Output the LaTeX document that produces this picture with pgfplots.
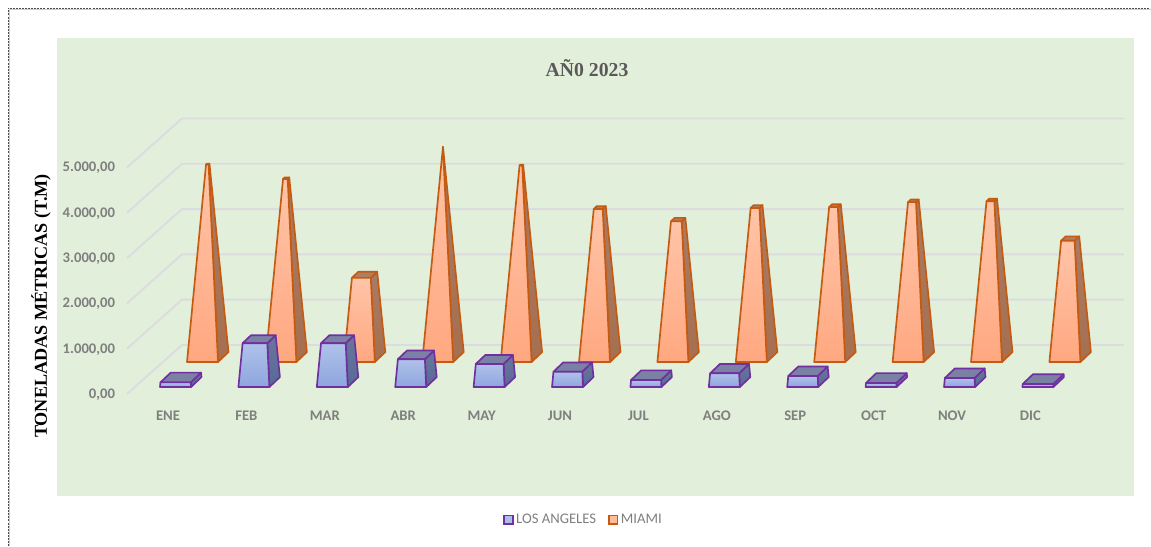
\documentclass[border=0pt]{standalone}
\usepackage{pgfplots}
\usepackage{pgfplotstable}
\usepackage{fontspec}
\pgfplotsset{compat=1.18}
\setmainfont{Carlito}
\newfontfamily\timesfont{Liberation Serif}
\definecolor{bggreen}{HTML}{E2EFDA}
\definecolor{gridc}{HTML}{DCDCE0}
\definecolor{lblc}{HTML}{7F7F7F}
\definecolor{miaLine}{HTML}{C55A11}
\definecolor{laLine}{HTML}{7030A0}
\pgfplotstableread{
mes LA MIA
ENE 100 4257
FEB 945 3948
MAR 945 1815
ABR 600 4640
MAY 497 4236
JUN 331 3300
JUL 152 3033
AGO 296 3322
SEP 238 3340
OCT 88 3448
NOV 195 3466
DIC 65 2615
}\datos
\definecolor{miaTop}{HTML}{FFC4A8}
\definecolor{miaBot}{HTML}{FFA880}
\definecolor{miaSideT}{HTML}{A87C66}
\definecolor{miaSideB}{HTML}{A66F50}
\definecolor{miaTopF}{HTML}{B07F62}
\definecolor{laTop}{HTML}{B0C2EA}
\definecolor{laBot}{HTML}{8EA5DE}
\definecolor{laSideT}{HTML}{6A7699}
\definecolor{laSideB}{HTML}{566A98}
\definecolor{laTopF}{HTML}{7A81A5}
\pgfplotsset{
 mia common/.style={draw=miaLine,line width=1.25pt,line join=round,mark=none,forget plot},
 la common/.style={draw=laLine,line width=1.25pt,line join=round,mark=none,forget plot},
 mia front/.style={mia common,top color=miaTop,bottom color=miaBot},
 mia side/.style={mia common,top color=miaSideT,bottom color=miaSideB},
 mia top/.style={mia common,fill=miaTopF},
 la front/.style={la common,top color=laTop,bottom color=laBot},
 la side/.style={la common,top color=laSideT,bottom color=laSideB},
 la top/.style={la common,fill=laTopF},
}
% #1 left x, #2 base level, #3 value, #4 series
\newcommand{\frustum}[4]{%
 \pgfmathsetmacro\ff{#3/4640}%
 \pgfmathsetmacro\xFL{#1}%
 \pgfmathsetmacro\xFR{#1+31}%
 \pgfmathsetmacro\xBR{#1+41.5}%
 \pgfmathsetmacro\yB{#2+220}%
 \pgfmathsetmacro\xFLt{#1+\ff*20.75}%
 \pgfmathsetmacro\xFRt{#1+31-\ff*10.25}%
 \pgfmathsetmacro\xBRt{#1+41.5-\ff*20.75}%
 \pgfmathsetmacro\xBLt{#1+10.5+\ff*10.25}%
 \pgfmathsetmacro\yFt{#2+\ff*110+#3}%
 \pgfmathsetmacro\yBt{#2+220-\ff*110+#3}%
 \edef\tmp{\noexpand\addplot[#4 side] coordinates {(\xFR,#2)(\xBR,\yB)(\xBRt,\yBt)(\xFRt,\yFt)} --cycle;
 \noexpand\addplot[#4 top] coordinates {(\xFLt,\yFt)(\xFRt,\yFt)(\xBRt,\yBt)(\xBLt,\yBt)} --cycle;
 \noexpand\addplot[#4 front] coordinates {(\xFL,#2)(\xFR,#2)(\xFRt,\yFt)(\xFLt,\yFt)} --cycle;}%
 \tmp
}
\begin{document}
\begin{tikzpicture}
\path[use as bounding box] (0,0) rectangle (863.25pt,409.5pt);
\begin{scope}[x=0.75pt,y=-0.75pt,yshift=409.5pt]
\fill[bggreen] (57,38) rectangle (1134,496);
\draw[gray!40,line width=1pt] (9.5,546) -- (9.5,9.5) -- (1151,9.5);
\draw[black!70,line width=0.6pt,dash pattern=on 1.5pt off 0.8pt] (8,546) -- (8,8) -- (1151,8);
\node[font=\timesfont\bfseries\fontsize{14.8}{18}\selectfont,text=black!65] at (587,68.5) {AÑ0 2023};
\node[font=\timesfont\bfseries\fontsize{13.6}{15}\selectfont,rotate=90] at (41,306) {TONELADAS MÉTRICAS (T.M)};
\end{scope}
\begin{axis}[
 at={(91.5pt,114pt)},anchor=south west,
 scale only axis,width=752.25pt,height=206.65pt,
 xmin=122,xmax=1125,ymin=0,ymax=6082,clip=false,
 axis line style={draw=none},major tick length=0pt,
 xtick={168,246.4,324.8,403.2,481.6,560,638.4,716.8,795.2,873.6,952,1030.4},
 xticklabels={ENE,FEB,MAR,ABR,MAY,JUN,JUL,AGO,SEP,OCT,NOV,DIC},
 ytick={0,1000,2000,3000,4000,5000},
 scaled y ticks=false,
 tick label style={font=\fontsize{11}{13}\selectfont\bfseries,text=lblc},
 xticklabel style={yshift=-9.5pt},
 yticklabel style={xshift=-1.7pt,yshift=-0.5pt,/pgf/number format/.cd,fixed,fixed zerofill,precision=2,1000 sep={.},use comma,assume math mode=true},
 legend style={at={(0.4606,-0.4565)},anchor=center,draw=none,fill=none,legend columns=2,
   font=\fontsize{11}{13}\selectfont,text=lblc,inner xsep=0pt,/tikz/every even column/.append style={column sep=7pt}},
]
\foreach \v/\w in {0/1082,1000/2082,2000/3082,3000/4082,4000/5082,5000/6082}{
 \edef\tmp{\noexpand\addplot[gridc,line width=1.4pt,mark=none,forget plot] coordinates {(127,\v)(182,\w)(1124,\w)};}\tmp
}
\foreach \i in {0,...,11}{
 \pgfplotstablegetelem{\i}{MIA}\of\datos
 \let\val\pgfplotsretval
 \pgfmathsetmacro\xx{187+78.4*\i}
 \frustum{\xx}{706}{\val}{mia}
}
\foreach \i in {0,...,11}{
 \pgfplotstablegetelem{\i}{LA}\of\datos
 \let\val\pgfplotsretval
 \pgfmathsetmacro\xx{160+78.4*\i}
 \frustum{\xx}{154}{\val}{la}
}
\addlegendimage{legend image code/.code={\draw[draw=laLine,fill=laTop!85!laBot,line width=1.2pt] (0pt,-3.2pt) rectangle (6.4pt,3.2pt);}}
\addlegendentry{LOS ANGELES}
\addlegendimage{legend image code/.code={\draw[draw=miaLine,fill=miaTop!70!miaBot,line width=1.2pt] (0pt,-3.2pt) rectangle (6.4pt,3.2pt);}}
\addlegendentry{MIAMI}
\end{axis}
\end{tikzpicture}
\end{document}
